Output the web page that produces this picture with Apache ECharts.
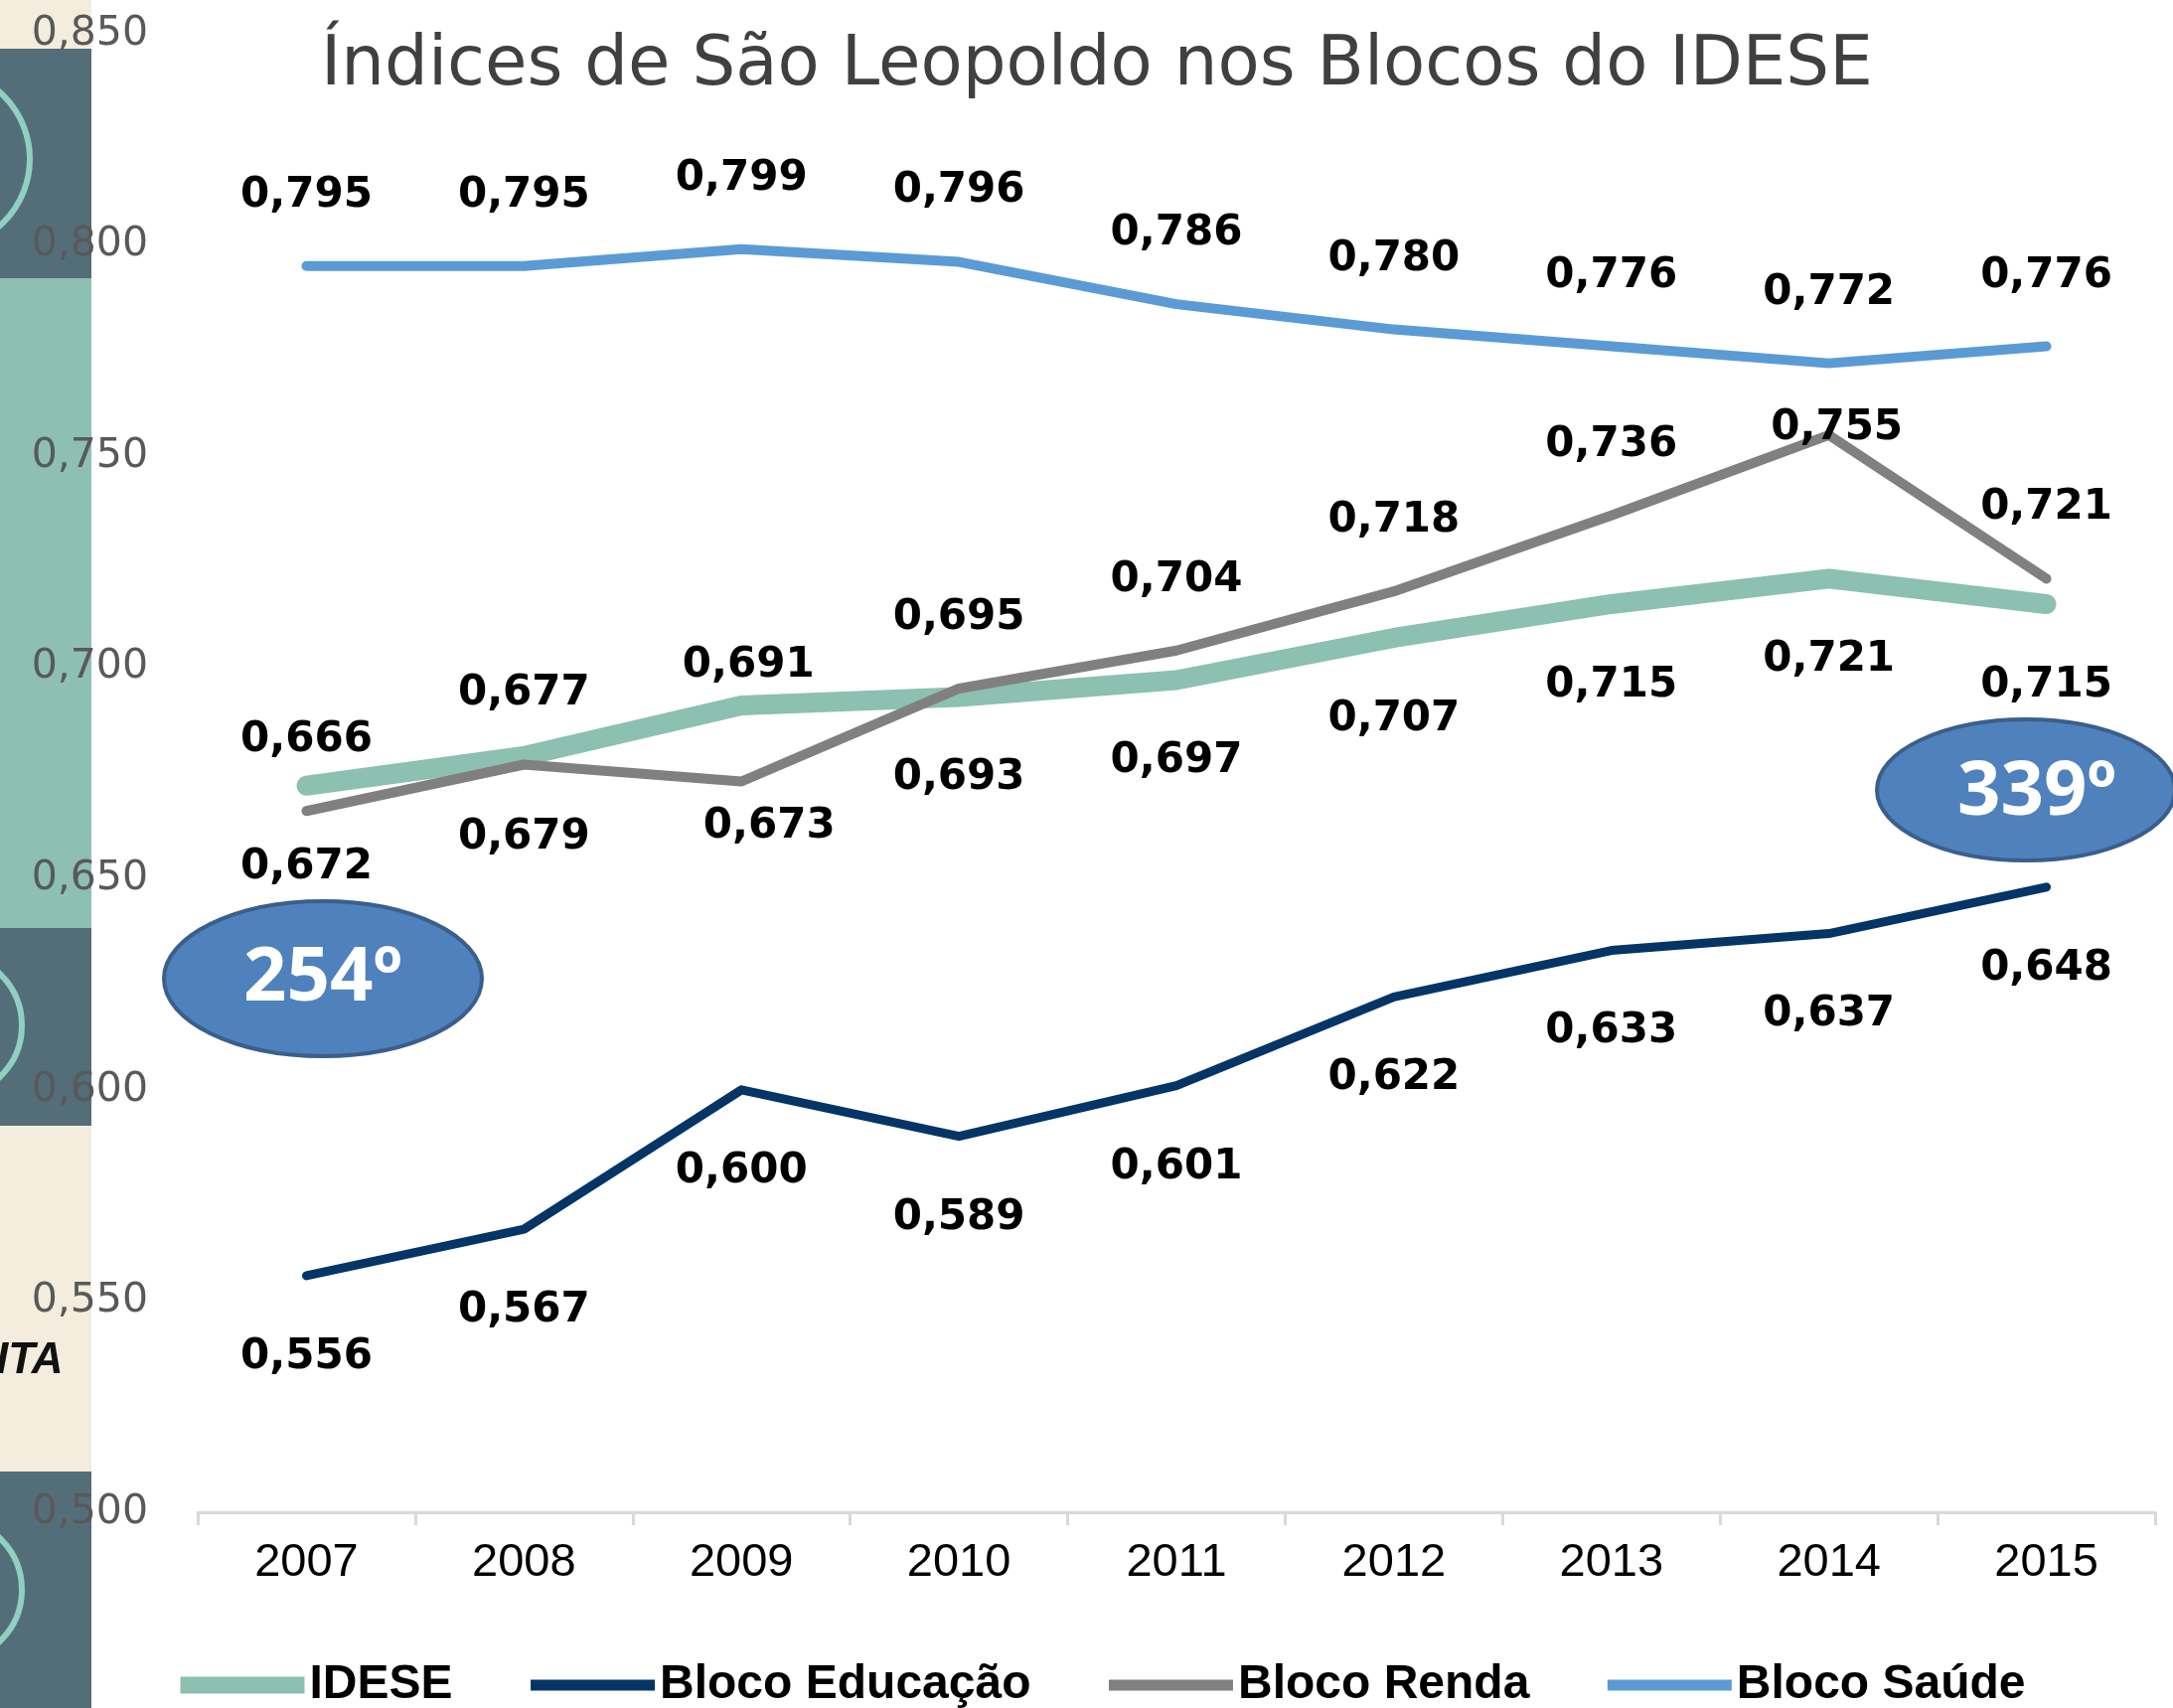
<!DOCTYPE html>
<html>
<head>
<meta charset="utf-8">
<script src="https://cdn.jsdelivr.net/npm/echarts@6/dist/echarts.min.js"></script>
<style>
html,body{margin:0;padding:0;background:#fff;}
#c{width:2187px;height:1719px;}
</style>
</head>
<body>
<div id="c"></div>
<script>
// ---- data ----
const categories = ['2007', '2008', '2009', '2010', '2011', '2012', '2013', '2014', '2015'];
const idese = [0.672, 0.679, 0.691, 0.693, 0.697, 0.707, 0.715, 0.721, 0.715];
const educacao = [0.556, 0.567, 0.600, 0.589, 0.601, 0.622, 0.633, 0.637, 0.648];
const renda = [0.666, 0.677, 0.673, 0.695, 0.704, 0.718, 0.736, 0.755, 0.721];
const saude = [0.795, 0.795, 0.799, 0.796, 0.786, 0.780, 0.776, 0.772, 0.776];
const seriesNames = ['IDESE', 'Bloco Educação', 'Bloco Renda', 'Bloco Saúde'];
const yMin = 0.5, yMax = 0.85, yStep = 0.05;
const rankFirst = '254º';
const rankLast = '339º';
const titleText = 'Índices de São Leopoldo nos Blocos do IDESE';

// ---- label placement (style) ----
const ABOVE = [0, -71], BELOW = [0, 82];
function labelOffsets(sides, special) {
  return sides.map((s, i) => special[i] || (s === 'a' ? ABOVE : BELOW));
}
const ideseLab = labelOffsets(['b','b','a','b','b','b','b','b','b'], {2: [7, -40]});
const educLab = labelOffsets(['b','b','b','b','b','b','b','b','b'], {});
const rendaLab = labelOffsets(['a','a','b','a','a','a','a','a','a'], {2: [28, 46], 7: [8, -7]});
const saudeLab = labelOffsets(['a','a','a','a','a','a','a','a','a'], {});

const fmt = v => v.toFixed(3).replace('.', ',');

function mkSeries(name, values, offs, color, width) {
  return {
    name: name,
    type: 'line',
    data: values.map((v, i) => ({ value: v, label: { offset: offs[i] } })),
    color: color,
    symbol: 'circle',
    symbolSize: 1,
    lineStyle: { color: color, width: width, cap: 'round', join: 'round' },
    label: {
      show: true,
      position: 'inside',
      color: '#000',
      fontFamily: 'DejaVu Sans',
      fontWeight: 'bold',
      fontSize: 42,
      textBorderWidth: 0,
      textBorderColor: 'transparent',
      formatter: p => fmt(p.value)
    },
    emphasis: { disabled: true },
    animation: false
  };
}

const chart = echarts.init(document.getElementById('c'));

const stripX = 92;
const graphics = [
  { type: 'rect', z: -10, shape: { x: 0, y: 0, width: stripX, height: 49 }, style: { fill: '#f4ecdc' } },
  { type: 'rect', z: -10, shape: { x: 0, y: 49, width: stripX, height: 231 }, style: { fill: '#546e79' } },
  { type: 'rect', z: -10, shape: { x: 0, y: 280, width: stripX, height: 654 }, style: { fill: '#8dbfb3' } },
  { type: 'rect', z: -10, shape: { x: 0, y: 934, width: stripX, height: 199 }, style: { fill: '#546e79' } },
  { type: 'rect', z: -10, shape: { x: 0, y: 1133, width: stripX, height: 348 }, style: { fill: '#f4ecdc' } },
  { type: 'rect', z: -10, shape: { x: 0, y: 1481, width: stripX, height: 238 }, style: { fill: '#546e79' } },
  { type: 'circle', z: -9, shape: { cx: -60, cy: 160, r: 90 }, style: { fill: 'none', stroke: '#8fd0c0', lineWidth: 6 } },
  { type: 'circle', z: -9, shape: { cx: -50, cy: 1032, r: 72 }, style: { fill: 'none', stroke: '#8fd0c0', lineWidth: 6 } },
  { type: 'circle', z: -9, shape: { cx: -50, cy: 1600, r: 72 }, style: { fill: 'none', stroke: '#8fd0c0', lineWidth: 6 } },
  { type: 'text', z: -8, x: -4, y: 1370, style: { text: 'ITA', fill: '#111', font: 'italic bold 44px "Liberation Sans"', textAlign: 'left', textVerticalAlign: 'middle' } },
  { type: 'ellipse', z: 50, shape: { cx: 325, cy: 985, rx: 160, ry: 78 }, style: { fill: '#4f81bd', stroke: '#3a5f8b', lineWidth: 4 } },
  { type: 'text', z: 51, x: 325, y: 985, style: { text: rankFirst, fill: '#fff', font: 'bold 76px "Open Sans"', textAlign: 'center', textVerticalAlign: 'middle' } },
  { type: 'ellipse', z: 50, shape: { cx: 2039, cy: 795, rx: 150, ry: 71 }, style: { fill: '#4f81bd', stroke: '#3a5f8b', lineWidth: 4 } },
  { type: 'text', z: 51, x: 2050, y: 798, style: { text: rankLast, fill: '#fff', font: 'bold 76px "Open Sans"', textAlign: 'center', textVerticalAlign: 'middle' } }
];

const legendWidths = [17, 11, 11, 11];

chart.setOption({
  backgroundColor: '#fff',
  animation: false,
  title: {
    text: titleText,
    left: 318,
    top: 28,
    textStyle: { fontFamily: 'DejaVu Sans', fontSize: 69, fontWeight: 'normal', color: '#404040' }
  },
  grid: { left: 199, right: 18, top: 34, bottom: 197, containLabel: false },
  xAxis: {
    type: 'category',
    data: categories,
    boundaryGap: true,
    axisLine: { show: true, lineStyle: { color: '#d9d9d9', width: 3 } },
    axisTick: { show: true, interval: 0, length: 13, lineStyle: { color: '#d9d9d9', width: 3 } },
    axisLabel: { fontFamily: 'Liberation Sans', fontSize: 47, color: '#000', margin: 28, interval: 0 }
  },
  yAxis: {
    type: 'value',
    min: yMin,
    max: yMax,
    interval: yStep,
    splitLine: { show: false },
    axisLine: { show: false },
    axisTick: { show: false },
    axisLabel: { fontFamily: 'DejaVu Sans', fontSize: 41, color: '#595959', margin: 50, formatter: v => fmt(v) }
  },
  legend: {
    left: 173,
    top: 1672,
    padding: 0,
    itemWidth: 125,
    itemHeight: 12,
    itemGap: 73,
    selectedMode: false,
    textStyle: { fontFamily: 'Liberation Sans', fontWeight: 'bold', fontSize: 48, color: '#000' },
    data: seriesNames.map((n, i) => ({ name: n, lineStyle: { width: legendWidths[i], cap: 'butt' }, itemStyle: { opacity: 0 } }))
  },
  series: [
    mkSeries(seriesNames[0], idese, ideseLab, '#8cc0b1', 20),
    mkSeries(seriesNames[1], educacao, educLab, '#043566', 9),
    mkSeries(seriesNames[2], renda, rendaLab, '#808080', 10),
    mkSeries(seriesNames[3], saude, saudeLab, '#5b9bd5', 10)
  ],
  graphic: graphics
});
</script>
</body>
</html>
